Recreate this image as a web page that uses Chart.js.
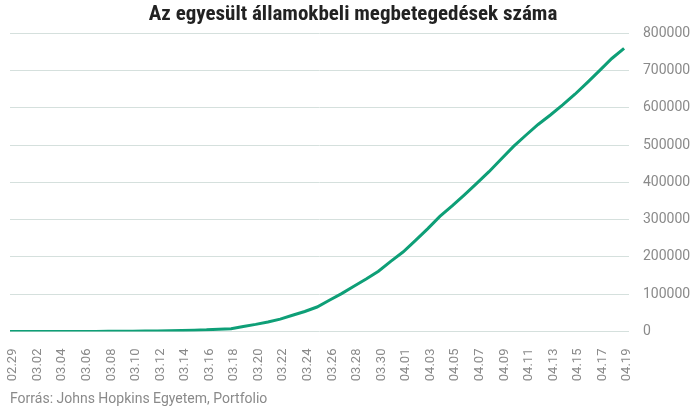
<!DOCTYPE html>
<html>
<head>
<meta charset="utf-8">
<script src="https://cdn.jsdelivr.net/npm/chart.js@4.4.0/dist/chart.umd.min.js"></script>
<style>
  html, body { margin: 0; padding: 0; background: #fff; }
  #wrap { width: 696px; height: 414px; position: relative; }
</style>
</head>
<body>
<div id="wrap"><canvas id="chart"></canvas></div>
<script>
// dátumok (02.29 - 04.19)
const napok = [
  '02.29', '03.01', '03.02', '03.03', '03.04', '03.05', '03.06', '03.07', '03.08', '03.09',
  '03.10', '03.11', '03.12', '03.13', '03.14', '03.15', '03.16', '03.17', '03.18', '03.19',
  '03.20', '03.21', '03.22', '03.23', '03.24', '03.25', '03.26', '03.27', '03.28', '03.29',
  '03.30', '03.31', '04.01', '04.02', '04.03', '04.04', '04.05', '04.06', '04.07', '04.08',
  '04.09', '04.10', '04.11', '04.12', '04.13', '04.14', '04.15', '04.16', '04.17', '04.18',
  '04.19'
];

// megbetegedések száma
const esetek = [
  68, 75, 100, 124, 158, 221, 319, 435, 541, 704,
  994, 1301, 1630, 2183, 2770, 3613, 4596, 6344, 7678, 13747,
  19273, 25600, 33276, 43843, 53736, 65778, 83836, 101657, 121465, 140909,
  161831, 188172, 213242, 243622, 275367, 308650, 336802, 366317, 397121, 428654,
  462780, 496535, 526396, 555313, 580619, 607670, 636350, 667592, 699706, 732197,
  759086
];

const yMax = 800000;
const yLepes = 100000;

const cim = 'Az egyesült államokbeli megbetegedések száma';
const forras = 'Forrás: Johns Hopkins Egyetem, Portfolio';

const szurke = '#8a8a8a';

// a vízszintes rácsvonalak kicsit túlnyúlnak az utolsó napon
const xMax = napok.length - 1 + 0.4;

new Chart(document.getElementById('chart'), {
  type: 'line',
  data: {
    datasets: [{
      data: esetek.map((v, i) => ({ x: i, y: v })),
      borderColor: '#0e9f77',
      borderWidth: 3,
      pointRadius: 0,
      tension: 0,
      fill: false
    }]
  },
  options: {
    responsive: true,
    maintainAspectRatio: false,
    animation: false,
    layout: { padding: { left: 10, right: 0, top: 2, bottom: 0 } },
    plugins: {
      legend: { display: false },
      tooltip: { enabled: false },
      title: {
        display: true,
        text: cim,
        color: '#222',
        font: { family: 'Roboto Condensed, Roboto', size: 21, weight: 'bold' },
        padding: { top: 0, bottom: 6 }
      },
      subtitle: {
        display: true,
        position: 'bottom',
        align: 'start',
        text: forras,
        color: szurke,
        font: { family: 'Roboto', size: 14 },
        padding: { top: 1, bottom: 6 }
      }
    },
    scales: {
      x: {
        type: 'linear',
        min: 0,
        max: xMax,
        grid: { display: false },
        border: { display: false },
        afterFit: function (scale) {
          // ne foglaljon helyet oldalt a forgatott címkéknek
          scale.paddingLeft = 0;
          scale.paddingRight = 0;
        },
        ticks: {
          stepSize: 2,
          includeBounds: false,
          autoSkip: false,
          maxRotation: 90,
          minRotation: 90,
          labelOffset: 3,
          color: szurke,
          font: { family: 'Roboto', size: 13 },
          padding: 9,
          callback: v => napok[v] || ''
        }
      },
      y: {
        position: 'right',
        min: 0,
        max: yMax,
        border: { display: false },
        grid: { color: '#d5e0dd', lineWidth: 1, drawTicks: false },
        afterFit: function (scale) {
          scale.width = 67;
        },
        ticks: {
          stepSize: yLepes,
          color: szurke,
          font: { family: 'Roboto', size: 14 },
          padding: 14,
          callback: v => String(v)
        }
      }
    }
  }
});
</script>
</body>
</html>
